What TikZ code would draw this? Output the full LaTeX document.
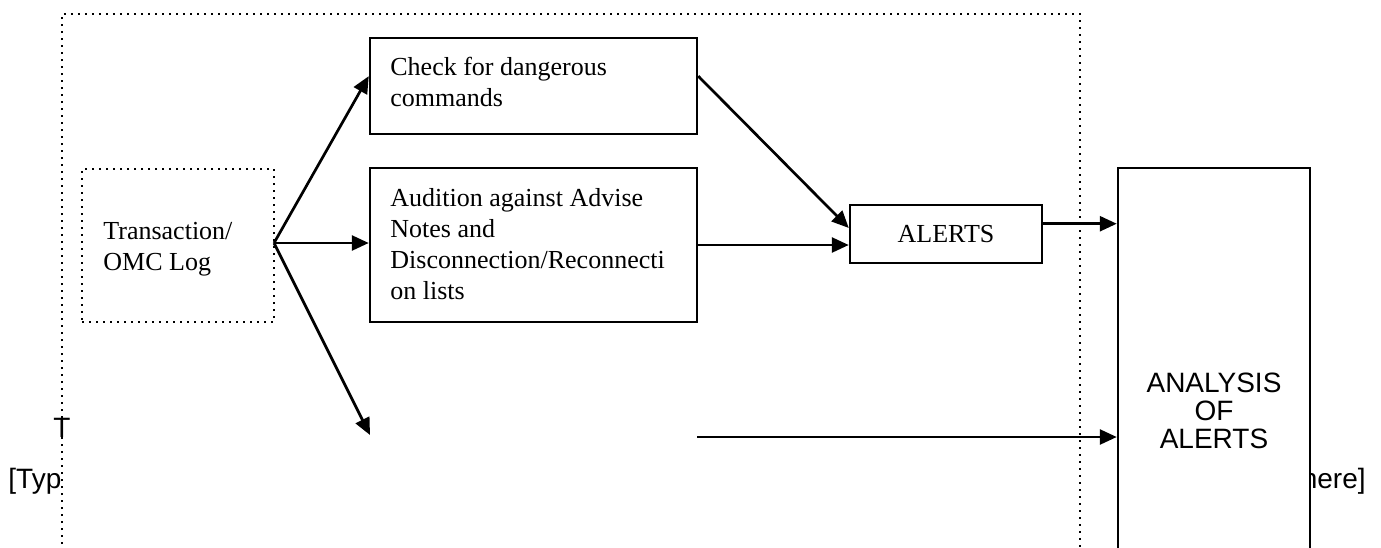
\documentclass[tikz,border=0pt]{standalone}
\usepackage{fontspec}
\setmainfont{Liberation Serif}
\newfontfamily\arialfont{Liberation Sans}
\usetikzlibrary{arrows.meta,calc}
\tikzset{
  dotline/.style={line width=0.9pt, dash pattern=on 0.9pt off 2.6pt},
  solidbox/.style={draw, line width=1.25pt, fill=white, rectangle, inner sep=0pt},
  boxtext/.style={font=\fontsize{13pt}{15.4pt}\selectfont, align=left, inner sep=0pt},
  sanstext/.style={font=\arialfont\fontsize{14pt}{14pt}\selectfont},
  arr/.style={line width=1.35pt, -{Triangle[length=8.5pt,width=7.5pt]}}
}
\begin{document}
\begin{tikzpicture}[x=0.5pt,y=-0.5pt]
\useasboundingbox (0,0) rectangle (1381,547);
\clip (0,0) rectangle (1381,547);
% outer dotted frame
\draw[dotline] (62,600) -- (62,14) -- (1080,14) -- (1080,600);
% placeholder fragments
\node[sanstext, inner sep=0pt] (tfrag) at (62,428) {T};
\node[sanstext, inner sep=0pt, anchor=base west] (typfrag) at (8,488) {[Typ};
\node[sanstext, inner sep=0pt, anchor=base east] (herefrag) at (1366,488) {here]};
% nodes
\node[dotline, draw, rectangle, minimum width=96pt, minimum height=76.5pt, inner sep=0pt] (log) at (178,245.5) {};
\node[boxtext, anchor=west] (logtext) at (103,249) {Transaction/\\OMC Log};
\node[solidbox, minimum width=163.5pt, minimum height=48pt] (check) at (533.5,86) {};
\node[boxtext, anchor=west] (checktext) at (390,82) {Check for dangerous\\commands};
\node[solidbox, minimum width=163.5pt, minimum height=77pt] (audit) at (533.5,245) {};
\node[boxtext, anchor=west] (audittext) at (390,244) {Audition against Advise\\Notes and\\Disconnection/Reconnecti\\on lists};
\node[solidbox, minimum width=96pt, minimum height=29pt, font=\fontsize{13pt}{15.4pt}\selectfont] (alerts) at (946,234) {ALERTS};
\node[solidbox, minimum width=96pt, minimum height=242pt] (analysis) at (1214,410) {};
\node[sanstext, align=center] (analysistext) at (1214,411) {ANALYSIS\\OF\\ALERTS};
% connectors
\coordinate (fork) at (274,243);
\coordinate (lowend) at (370,435);
\coordinate (lowstart) at (697,437);
\draw[arr] (fork) -- ($(check.north west)!0.4!(check.south west)$);
\draw[arr] (fork) -- (fork -| audit.west);
\draw[arr] (fork) -- (lowend);
\draw[arr] ($(check.north east)!0.4!(check.south east)$) -- ($(alerts.north west)!0.4!(alerts.south west)$);
\draw[arr] (audit.east) -- (audit.east -| alerts.west);
\draw[arr] ($(alerts.north east)!0.33!(alerts.south east)$) coordinate (aout) -- (aout -| analysis.west);
\draw[arr] (lowstart) -- (lowstart -| analysis.west);
\end{tikzpicture}
\end{document}
